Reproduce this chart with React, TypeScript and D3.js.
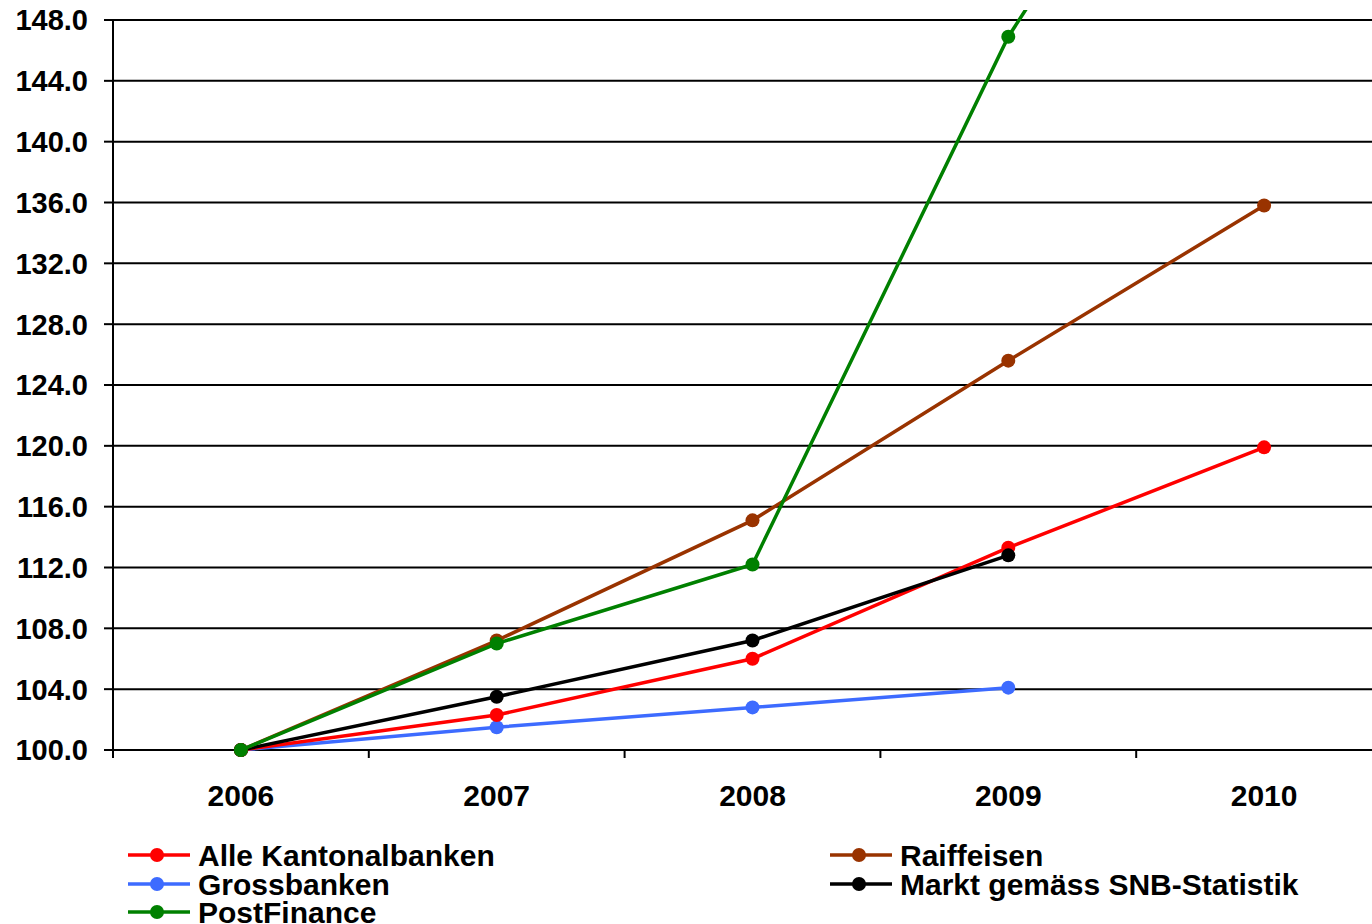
import { useEffect, useRef } from 'react';
import * as d3 from 'd3';

const years = ['2006', '2007', '2008', '2009', '2010'];
const yTicks = [100, 104, 108, 112, 116, 120, 124, 128, 132, 136, 140, 144, 148];

const kantonalbanken = [100.0, 102.3, 106.0, 113.3, 119.9];
const grossbanken = [100.0, 101.5, 102.8, 104.1];
const postFinance = [100.0, 107.0, 112.2, 146.9, 173.0];
const raiffeisen = [100.0, 107.2, 115.1, 125.6, 135.8];
const markt = [100.0, 103.5, 107.2, 112.8];

const series = [
  { name: 'Alle Kantonalbanken', values: kantonalbanken, color: '#ff0000' },
  { name: 'Grossbanken', values: grossbanken, color: '#3d6bff' },
  { name: 'PostFinance', values: postFinance, color: '#008000' },
  { name: 'Raiffeisen', values: raiffeisen, color: '#993300' },
  { name: 'Markt gemäss SNB-Statistik', values: markt, color: '#000000' },
];

const W = 1372;
const H = 924;
const FONT = '"Liberation Sans", Arial, sans-serif';

export default function App() {
  const svgRef = useRef<SVGSVGElement>(null);

  useEffect(() => {
    const svg = d3.select(svgRef.current);
    svg.selectAll('*').remove();

    const left = 113;
    const x = d3.scaleBand().domain(years).range([left, left + 255.8 * years.length]);
    const y = d3.scaleLinear().domain([100, 148]).range([750, 20]);
    const cx = (yr: string) => (x(yr) as number) + x.bandwidth() / 2;

    // gridlines
    svg.append('g')
      .selectAll('line')
      .data(yTicks.slice(1))
      .enter().append('line')
      .attr('x1', left).attr('x2', W)
      .attr('y1', d => y(d)).attr('y2', d => y(d))
      .attr('stroke', '#000').attr('stroke-width', 2);

    // y axis
    svg.append('line')
      .attr('x1', left).attr('x2', left)
      .attr('y1', y(148)).attr('y2', y(100) + 8)
      .attr('stroke', '#000').attr('stroke-width', 2);
    svg.append('g')
      .selectAll('line')
      .data(yTicks)
      .enter().append('line')
      .attr('x1', left - 9).attr('x2', left)
      .attr('y1', d => y(d)).attr('y2', d => y(d))
      .attr('stroke', '#000').attr('stroke-width', 2);
    svg.append('g')
      .selectAll('text')
      .data(yTicks)
      .enter().append('text')
      .attr('x', 88)
      .attr('y', d => y(d))
      .attr('dy', '0.36em')
      .attr('text-anchor', 'end')
      .style('font-family', FONT)
      .style('font-weight', 'bold')
      .style('font-size', '29px')
      .text(d => d.toFixed(1));

    // x axis
    svg.append('line')
      .attr('x1', left).attr('x2', W)
      .attr('y1', y(100)).attr('y2', y(100))
      .attr('stroke', '#000').attr('stroke-width', 2);
    svg.append('g')
      .selectAll('line')
      .data(years.slice(1))
      .enter().append('line')
      .attr('x1', d => x(d) as number).attr('x2', d => x(d) as number)
      .attr('y1', y(100)).attr('y2', y(100) + 8)
      .attr('stroke', '#000').attr('stroke-width', 2);
    svg.append('g')
      .selectAll('text')
      .data(years)
      .enter().append('text')
      .attr('x', d => cx(d))
      .attr('y', 806)
      .attr('text-anchor', 'middle')
      .style('font-family', FONT)
      .style('font-weight', 'bold')
      .style('font-size', '30px')
      .text(d => d);

    // clip for lines
    svg.append('clipPath').attr('id', 'plotclip')
      .append('rect').attr('x', left).attr('y', 10).attr('width', W - left).attr('height', 760);

    const line = d3.line<number>()
      .x((_, i) => cx(years[i]))
      .y(d => y(d));

    const plot = svg.append('g').attr('clip-path', 'url(#plotclip)');
    // draw order: back to front
    const order = [1, 0, 4, 3, 2];
    order.forEach(si => {
      const s = series[si];
      plot.append('path')
        .attr('d', line(s.values))
        .attr('fill', 'none')
        .attr('stroke', s.color)
        .attr('stroke-width', 3.5);
      plot.append('g')
        .selectAll('circle')
        .data(s.values)
        .enter().append('circle')
        .attr('cx', (_, i) => cx(years[i]))
        .attr('cy', d => y(d))
        .attr('r', 7)
        .attr('fill', s.color);
    });

    // legend
    const legendPos = [
      { x: 128, y: 855 },
      { x: 128, y: 884 },
      { x: 128, y: 912 },
      { x: 830, y: 855 },
      { x: 830, y: 884 },
    ];
    series.forEach((s, i) => {
      const p = legendPos[i];
      const g = svg.append('g').attr('transform', `translate(${p.x},${p.y})`);
      g.append('line').attr('x1', 0).attr('x2', 62).attr('y1', 0).attr('y2', 0)
        .attr('stroke', s.color).attr('stroke-width', 3.5);
      g.append('circle').attr('cx', 29).attr('cy', 0).attr('r', 7).attr('fill', s.color);
      g.append('text')
        .attr('x', 70).attr('y', 0).attr('dy', '0.36em')
        .style('font-family', FONT)
        .style('font-weight', 'bold')
        .style('font-size', '30px')
        .text(s.name);
    });
  }, []);

  return (
    <svg ref={svgRef} width={W} height={H}
      style={{ position: 'absolute', left: 0, top: 0, background: '#fff' }} />
  );
}
